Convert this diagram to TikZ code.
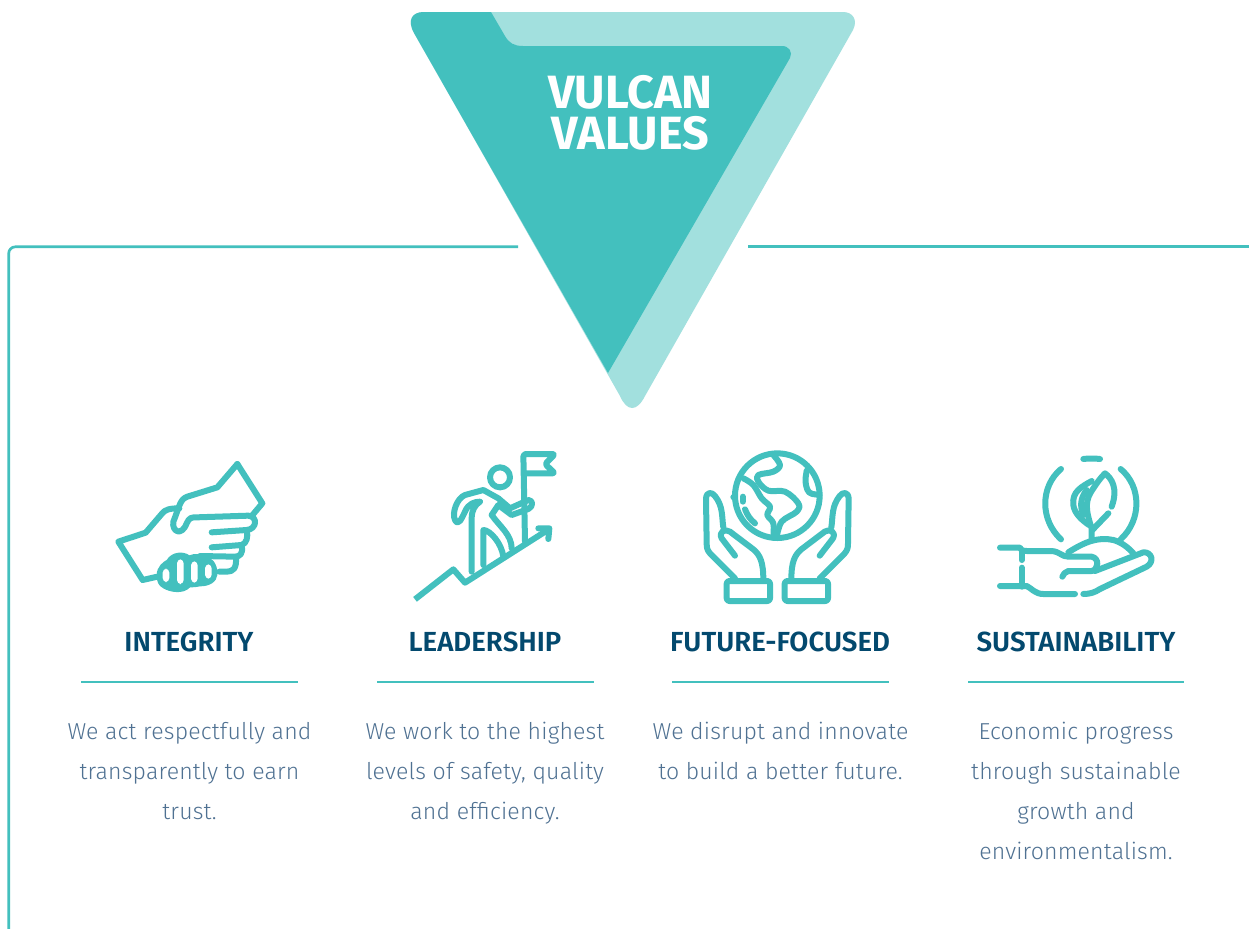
\documentclass[tikz,border=0pt]{standalone}
\usepackage{fontspec}
\setmainfont{Fira Sans}
\newfontfamily\bodyfont[LetterSpace=0.8]{Fira Sans Light}
\newfontfamily\headfont{Fira Sans}[BoldFont={Fira Sans SemiBold}]
\definecolor{teal}{HTML}{43C0BE}
\definecolor{lightteal}{HTML}{A2E0DE}
\definecolor{navy}{HTML}{03496E}
\definecolor{slate}{HTML}{4F7192}
\tikzset{
  ic/.style={draw=teal,line width=4.5pt,line cap=round,line join=round},
  sm/.style={smooth,tension=0.6},
  rulex/.style={draw=teal,line width=0.8pt},
  framex/.style={draw=teal,line width=2pt},
  titlex/.style={text=navy,font=\headfont\fontsize{20.7pt}{24pt}\selectfont\bfseries,inner sep=0,anchor=base},
  bodyx/.style={text=slate,font=\bodyfont\fontsize{17.3pt}{30pt}\selectfont,align=center,inner sep=0,anchor=north},
  ico/.style={shift={#1},x=0.25pt,y=-0.25pt}
}
\begin{document}
\begin{tikzpicture}[x=0.75pt,y=-0.75pt]
\useasboundingbox (0,0) rectangle (1249,928);
\fill[white] (0,0) rectangle (1249,928);
% frame
\draw[framex,rounded corners=5pt] (518,246.8) -- (8.7,246.8) -- (8.7,929);
\draw[framex] (748,246.8) -- (1250,246.8);
% triangle
\fill[lightteal] (424,12) -- (843,12) .. controls (853,12) and (858,20) .. (853,30) -- (645,396) .. controls (637,412) and (627,412) .. (620,396) -- (414,33) .. controls (407,20) and (412,12) .. (424,12) -- cycle;
\fill[teal] (608,373) -- (414,33) .. controls (407,20) and (412,12) .. (424,12) -- (491,12) -- (505,36) .. controls (509,43) and (514,46) .. (523,46) -- (782,46) .. controls (789,46) and (793,52) .. (790,58) -- cycle;
\node[text=white,font=\fontsize{35pt}{30.7pt}\selectfont\bfseries,align=center,inner sep=0,anchor=north] (head) at (630.5,75) {VULCAN\\VALUES};
% titles
\node[titlex] (t1) at (189,651) {INTEGRITY};
\node[titlex] (t2) at (485,651) {LEADERSHIP};
\node[titlex] (t3) at (780,651) {FUTURE-FOCUSED};
\node[titlex] (t4) at (1076,651) {SUSTAINABILITY};
\draw[rulex] (81,682) -- (298,682);
\draw[rulex] (377,682) -- (594,682);
\draw[rulex] (672,682) -- (889,682);
\draw[rulex] (968,682) -- (1184,682);
% body
\node[bodyx] (b1) at (189.5,722) {We act respectfully and\\transparently to earn\\trust.};
\node[bodyx] (b2) at (485,722) {We work to the highest\\levels of safety, quality\\and efficiency.};
\node[bodyx] (b3) at (780.5,722) {We disrupt and innovate\\to build a better future.};
\node[bodyx] (b4) at (1076,722) {Economic progress\\through sustainable\\growth and\\environmentalism.};
% icon 1
\begin{scope}[ico={(100,440)}]
\draw[ic] (172,410) -- (128,420) -- (55,305) -- (137,278) -- (185,222) .. controls (195,208) and (210,205) .. (238,205);
\draw[ic] (412,72) -- (487,190) -- (455,228);
\draw[ic] (412,72) -- (352,142) -- (262,170) .. controls (240,178) and (240,195) .. (220,245) .. controls (215,275) and (245,290) .. (260,250) .. controls (268,232) and (275,232) .. (290,232) -- (445,227) .. controls (475,230) and (470,268) .. (440,270) -- (335,277);
\draw[ic] (440,272) .. controls (445,290) and (440,310) .. (425,315) -- (335,322);
\draw[ic] (425,318) .. controls (430,340) and (420,350) .. (405,350) -- (300,348);
\draw[ic] (408,352) .. controls (410,385) and (400,395) .. (380,395) -- (358,395);
\fill[teal] (170,405) .. controls (170,380) and (190,365) .. (200,360) .. controls (215,335) and (250,332) .. (268,346) .. controls (285,338) and (305,343) .. (318,353) .. controls (345,353) and (354,385) .. (352,405) .. controls (350,425) and (330,439) .. (300,439) .. controls (285,442) and (280,442) .. (270,442) .. controls (250,464) and (210,457) .. (190,445) .. controls (175,437) and (170,425) .. (170,405) -- cycle;
\fill[white,rounded corners=3pt] (188,386) rectangle (208,426);
\fill[white,rounded corners=3pt] (231,358) rectangle (251,432);
\fill[white,rounded corners=3pt] (273,364) rectangle (293,428);
\fill[white,rounded corners=3pt] (315,373) rectangle (335,416);
\end{scope}
% icon 2
\begin{scope}[ico={(400,440)}]
\draw[ic] (300,112) circle (30);
\draw[ic,line cap=butt] (45,478) -- (160,388) -- (195,428) -- (440,272);
\draw[ic] (415,265) -- (448,265) -- (445,297);
\draw[ic,rounded corners=2pt] (375,305) -- (370,42) -- (465,42) -- (435,72) -- (465,100) -- (375,100);
\draw[ic] (215,395) -- (215,235) .. controls (215,210) and (225,195) .. (240,185) .. controls (225,185) and (205,190) .. (195,215) .. controls (185,235) and (175,260) .. (165,240) .. controls (155,220) and (170,175) .. (195,165) -- (250,150) -- (295,175) -- (330,205) -- (385,180) .. controls (400,180) and (400,200) .. (385,207) -- (335,225) -- (295,195) -- (275,225) .. controls (300,260) and (335,285) .. (335,325);
\draw[ic] (250,375) -- (250,270) .. controls (270,270) and (305,310) .. (310,350);
\end{scope}
% icon 3
\begin{scope}[ico={(690,440)}]
\draw[ic] (262,167) circle (127);
\draw[ic] plot[sm] coordinates {(250,45) (270,75) (250,95) (205,105) (205,125) (235,152) (285,155) (325,190) (320,215) (275,245) (260,292)};
\draw[ic] plot[sm] coordinates {(160,115) (190,135) (215,175) (240,200) (232,225) (250,250) (250,292)};
\draw[ic,rounded corners=3pt] (350,92) -- (345,125) -- (355,160) -- (388,165);
\draw[ic] (130,172) -- (131,172);
\draw[ic] (158,170) -- (158,185);
\draw[ic] (165,208) .. controls (172,225) and (180,238) .. (195,250);
\foreach \sx/\ox in {1/0,-1/524}{
\begin{scope}[shift={(\ox,0)},xscale=\sx]
\draw[ic,rounded corners=2pt] (110,423) rectangle (240,483);
\draw[ic] (135,415) -- (60,340) .. controls (52,330) and (50,325) .. (50,310) -- (48,175) .. controls (50,155) and (65,155) .. (75,168) .. controls (100,200) and (95,230) .. (100,262);
\draw[ic] (135,347) -- (95,295) .. controls (85,275) and (105,265) .. (120,275) -- (190,328) .. controls (210,345) and (220,365) .. (220,420);
\end{scope}}
\end{scope}
% icon 4
\begin{scope}[ico={(985,445)}]
\draw[ic] (295,42) .. controls (310,40) and (330,40) .. (345,42);
\draw[ic] (228,72) .. controls (165,125) and (165,225) .. (228,283);
\draw[ic] (407,72) .. controls (470,125) and (470,225) .. (407,283);
\draw[ic] (320,285) -- (320,250) .. controls (300,190) and (300,165) .. (325,130) .. controls (335,115) and (345,100) .. (360,85) .. controls (380,100) and (400,130) .. (380,185);
\draw[ic] (320,108) .. controls (290,125) and (260,140) .. (265,180) .. controls (268,205) and (290,225) .. (312,240);
\draw[ic] (305,135) .. controls (285,160) and (285,185) .. (295,210);
\draw[ic] (370,205) -- (322,255);
\draw[ic] (250,322) .. controls (300,290) and (340,275) .. (385,285) .. controls (410,292) and (430,308) .. (445,325);
\draw[ic] (45,308) -- (105,308) .. controls (110,318) and (115,318) .. (125,318) -- (200,318) .. controls (225,320) and (230,335) .. (250,335) -- (320,335) .. controls (345,340) and (340,375) .. (320,378) -- (250,378) .. controls (240,380) and (235,388) .. (232,395);
\draw[ic] (330,378) -- (475,322) .. controls (500,320) and (510,350) .. (485,365) -- (345,432) .. controls (330,442) and (315,447) .. (295,447);
\draw[ic] (270,447) -- (175,447) .. controls (150,447) and (140,430) .. (125,423) -- (45,423);
\draw[ic] (110,318) -- (110,345);
\draw[ic] (110,368) -- (110,425);
\end{scope}
\end{tikzpicture}
\end{document}
